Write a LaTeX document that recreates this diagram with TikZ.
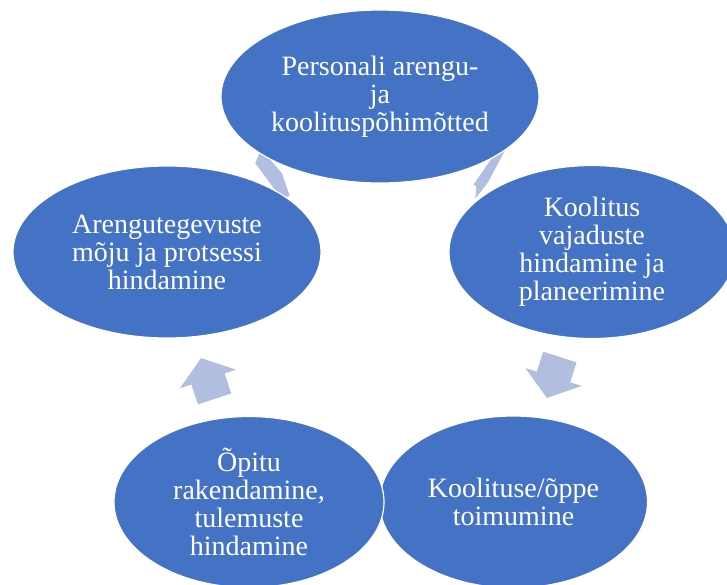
\documentclass[tikz,border=0pt]{standalone}
\usepackage{fontspec}
\setmainfont{Liberation Serif}
\usetikzlibrary{shapes.geometric}
\definecolor{nodeblue}{RGB}{68,114,196}
\definecolor{arrowblue}{RGB}{177,190,223}
\tikzset{
  cyclenode/.style={ellipse, fill=nodeblue, draw=white, line width=1.2pt,
    inner sep=0pt, text=white, align=center,
    font=\fontsize{28}{28}\selectfont},
  cyclearrow/.style={fill=arrowblue}
}
\newcommand{\cyclearrowshape}{(-21,-17.5) -- (0,-17.5) -- (0,-29.5) -- (22,0) -- (0,29.5) -- (0,17.5) -- (-21,17.5) -- cycle}
\begin{document}
\begin{tikzpicture}[x=1pt,y=-1pt]
\useasboundingbox[fill=white] (0,0) rectangle (727,584);
% arrows (behind the ellipses); the two upper ones are mostly hidden,
% only their visible slivers are drawn
\fill[cyclearrow] (494,155) -- (473.7,184.3) -- (476.5,186.7) -- (475.3,198.5)
  -- (488,182.3) -- (506,148.5) -- cycle;
\begin{scope}[shift={(553.5,377)},rotate=-107.6]
  \fill[cyclearrow] \cyclearrowshape;
\end{scope}
\begin{scope}[shift={(208,379)},rotate=108.3]
  \fill[cyclearrow] \cyclearrowshape;
\end{scope}
\fill[cyclearrow] (261,149) -- (255.3,163.3) -- (281,198) -- (289.7,196)
  -- (282,173.3) -- cycle;
% ellipses
\node[cyclenode, minimum width=318pt, minimum height=173pt] (top) at (380,96.5)
  {Personali arengu-\\ja\\koolituspõhimõtted};
\node[cyclenode, minimum width=286pt, minimum height=173pt] (right) at (592,252)
  {Koolitus\\vajaduste\\hindamine ja\\planeerimine};
\node[cyclenode, minimum width=268pt, minimum height=172pt] (bright) at (513.5,502)
  {Koolituse/õppe\\toimumine};
\node[cyclenode, minimum width=270pt, minimum height=171pt] (bleft) at (249,502)
  {Õpitu\\rakendamine,\\tulemuste\\hindamine};
\node[cyclenode, minimum width=308pt, minimum height=172pt] (left) at (167,252)
  {Arengutegevuste\\mõju ja protsessi\\hindamine};
\end{tikzpicture}
\end{document}
